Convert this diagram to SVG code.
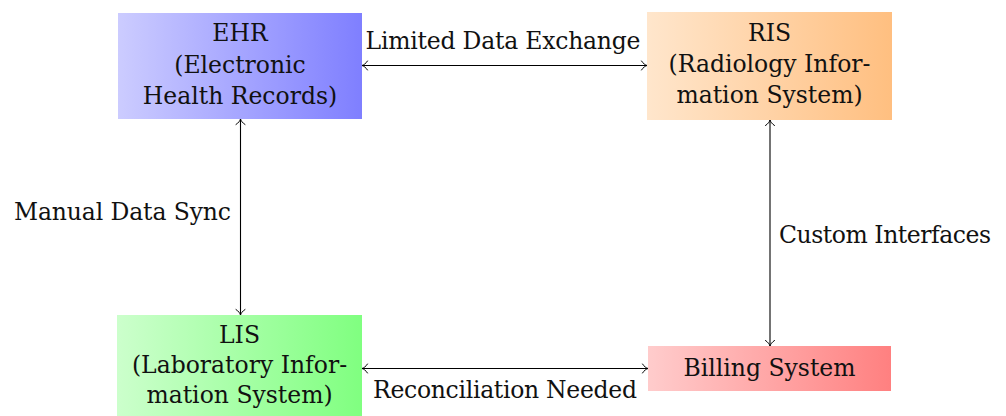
<svg xmlns="http://www.w3.org/2000/svg" width="1006" height="416" viewBox="0 0 1006 416">
  <defs>
    <linearGradient id="gBlue" x1="0" y1="0" x2="1" y2="0">
      <stop offset="0" stop-color="#ccccff"/>
      <stop offset="1" stop-color="#7f7fff"/>
    </linearGradient>
    <linearGradient id="gOrange" x1="0" y1="0" x2="1" y2="0">
      <stop offset="0" stop-color="#ffe6cc"/>
      <stop offset="1" stop-color="#ffbf80"/>
    </linearGradient>
    <linearGradient id="gGreen" x1="0" y1="0" x2="1" y2="0">
      <stop offset="0" stop-color="#ccffcc"/>
      <stop offset="1" stop-color="#80ff80"/>
    </linearGradient>
    <linearGradient id="gRed" x1="0" y1="0" x2="1" y2="0">
      <stop offset="0" stop-color="#ffcccc"/>
      <stop offset="1" stop-color="#ff8080"/>
    </linearGradient>
    <marker id="tip" viewBox="-7 -6 8 12" refX="0" refY="0" markerWidth="8" markerHeight="12" markerUnits="userSpaceOnUse" orient="auto-start-reverse">
      <path d="M-5.5,-4.5 C-4,-2 -1.5,-0.4 0,0 C-1.5,0.4 -4,2 -5.5,4.5" fill="none" stroke="#000" stroke-width="1" stroke-linecap="round"/>
    </marker>
  </defs>
  <style>
    text { font-family: "DejaVu Serif", "Liberation Serif", serif; font-size: 23.5px; fill: #111; }
    .c { text-anchor: middle; }
    .edge { stroke: #000; stroke-width: 1.1; fill: none; marker-start: url(#tip); marker-end: url(#tip); }
  </style>

  <rect width="1006" height="416" fill="#fff"/>

  <g id="connectors">
    <line class="edge" x1="362" y1="65.5" x2="647" y2="65.5"/>
    <line class="edge" x1="240.5" y1="119" x2="240.5" y2="315"/>
    <line class="edge" x1="770" y1="120" x2="770" y2="346"/>
    <line class="edge" x1="362" y1="368.5" x2="648" y2="368.5"/>
    <text class="c" x="503" y="49" textLength="275">Limited Data Exchange</text>
    <text x="231" y="220" text-anchor="end" textLength="217">Manual Data Sync</text>
    <text x="779" y="243" textLength="212">Custom Interfaces</text>
    <text class="c" x="505" y="398" textLength="264">Reconciliation Needed</text>
  </g>

  <g id="ehr">
    <rect x="118" y="13" width="244" height="106" fill="url(#gBlue)"/>
    <text class="c" x="240" y="41">EHR</text>
    <text class="c" x="240" y="73">(Electronic</text>
    <text class="c" x="240" y="104">Health Records)</text>
  </g>

  <g id="ris">
    <rect x="647" y="12" width="245" height="108" fill="url(#gOrange)"/>
    <text class="c" x="769.5" y="41">RIS</text>
    <text class="c" x="769.5" y="72">(Radiology Infor-</text>
    <text class="c" x="769.5" y="103">mation System)</text>
  </g>

  <g id="lis">
    <rect x="117" y="315" width="245" height="106" fill="url(#gGreen)"/>
    <text class="c" x="239.5" y="343">LIS</text>
    <text class="c" x="239.5" y="373">(Laboratory Infor-</text>
    <text class="c" x="239.5" y="403">mation System)</text>
  </g>

  <g id="billing">
    <rect x="648" y="346" width="243" height="45" fill="url(#gRed)"/>
    <text class="c" x="769.5" y="376">Billing System</text>
  </g>
</svg>
